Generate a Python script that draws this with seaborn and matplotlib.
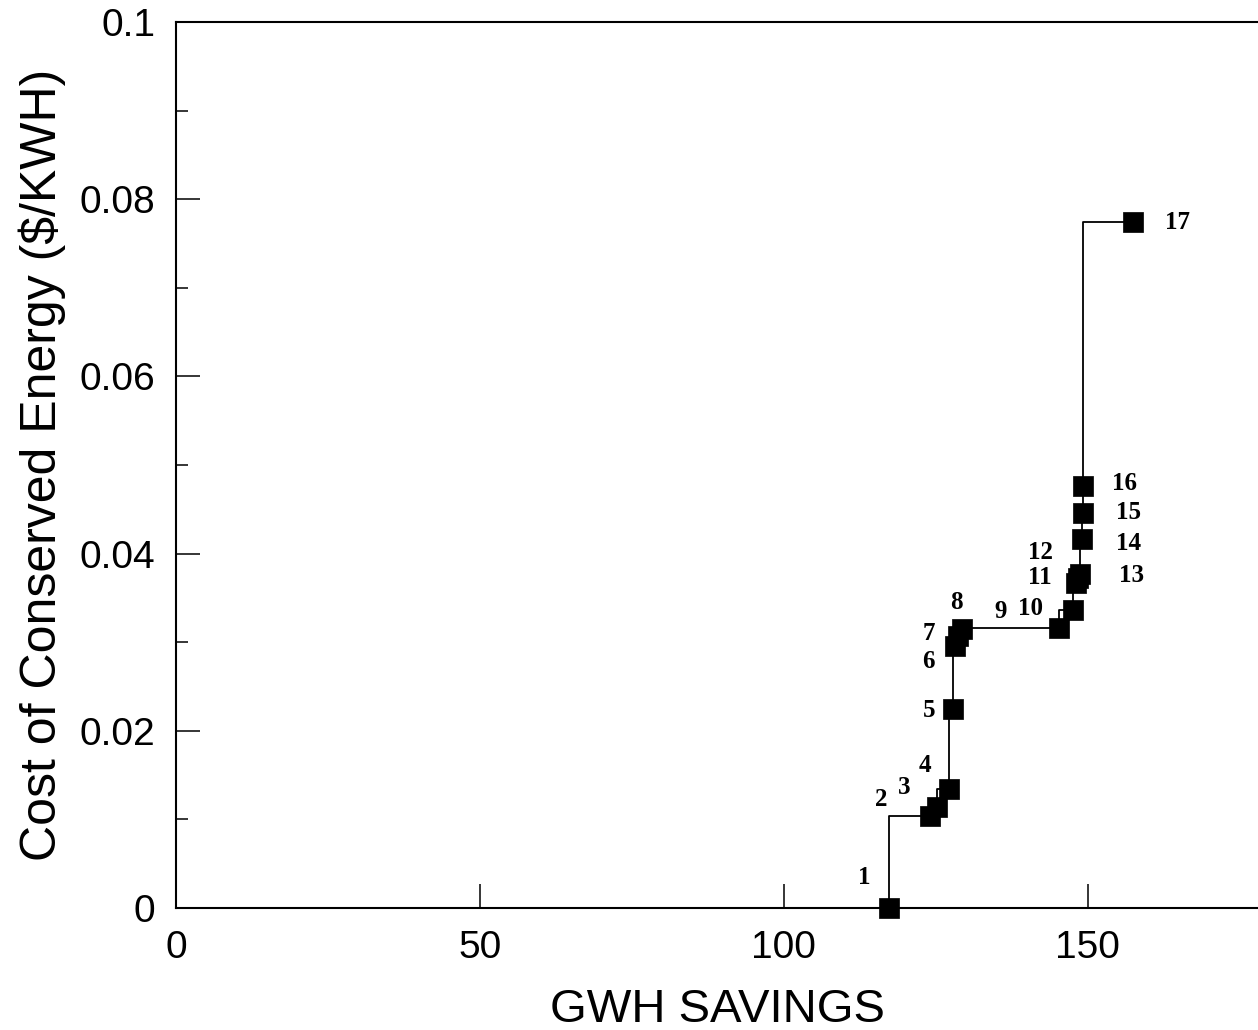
import matplotlib
matplotlib.use("Agg")
import matplotlib.pyplot as plt
import seaborn as sns
import pandas as pd
from matplotlib.ticker import MultipleLocator

# measures ranked by cost, cumulative GWH savings vs cost of conserved energy
measure_ids = [str(i) for i in range(1, 18)]
gwh_savings = [117.3, 124.0, 125.2, 127.1, 127.8, 128.1, 128.6, 129.3, 145.2,
               147.5, 148.0, 148.4, 148.7, 149.0, 149.2, 149.2, 157.4]
cost_kwh = [0.0, 0.0104, 0.0114, 0.0134, 0.0225, 0.0296, 0.0307, 0.0315, 0.0316,
            0.0336, 0.0367, 0.0372, 0.0377, 0.0416, 0.0446, 0.0476, 0.0774]

# label offsets (points) for each measure number
label_dx = [-18, -35, -24, -17, -17, -19, -21, -4, -42, -30, -26, -27, 37, 34, 33, 30, 32]
label_dy = [22, 12, 14, 17, -1, -11, 2, 19, 12, 1, 4, 19, -1, -3, 0, 2, 0]

df = pd.DataFrame({"gwh": gwh_savings, "cost": cost_kwh, "id": measure_ids})

sns.set_style("white", {"xtick.bottom": True, "ytick.left": True,
                        "text.color": "black", "axes.labelcolor": "black",
                        "xtick.color": "black", "ytick.color": "black",
                        "axes.edgecolor": "black"})
plt.rcParams['font.family'] = ['Liberation Sans', 'DejaVu Sans']

fig = plt.figure(figsize=(12.58, 10.30), dpi=100)
ax = fig.add_axes([176 / 1258, 122 / 1030, 1082 / 1258, 886 / 1030])

sns.lineplot(data=df, x="gwh", y="cost", ax=ax, sort=False, estimator=None,
             drawstyle="steps-pre", color="black", linewidth=1.3)
sns.scatterplot(data=df, x="gwh", y="cost", ax=ax, marker="s", s=220,
                color="black", edgecolor="black", linewidth=0.5, zorder=3,
                clip_on=False)

for i, row in df.iterrows():
    ax.annotate(row["id"], (row["gwh"], row["cost"]),
                xytext=(label_dx[i], label_dy[i]), textcoords="offset points",
                ha="center", va="center", fontsize=18, fontweight="bold",
                family=["Liberation Serif", "DejaVu Serif"])

ax.set_xlim(0, 178)
ax.set_ylim(0, 0.1)
ax.xaxis.set_major_locator(MultipleLocator(50))
ax.set_yticks([0, 0.02, 0.04, 0.06, 0.08, 0.1])
ax.set_yticklabels(["0", "0.02", "0.04", "0.06", "0.08", "0.1"])
ax.yaxis.set_minor_locator(MultipleLocator(0.01))

ax.tick_params(axis="both", which="major", direction="in", length=17, width=1.1,
               labelsize=28, pad=15)
ax.tick_params(axis="y", which="minor", direction="in", length=8.5, width=1.1, left=True)
ax.tick_params(axis="x", which="major", pad=16)

for side in ["left", "bottom", "top"]:
    ax.spines[side].set_linewidth(1.5)
ax.spines["right"].set_visible(False)

ax.set_xlabel("GWH SAVINGS", fontsize=34, labelpad=16)
ax.set_ylabel("Cost of Conserved Energy ($/KWH)", fontsize=36, labelpad=10)

fig.savefig("out.png", dpi=100)
plt.close(fig)
